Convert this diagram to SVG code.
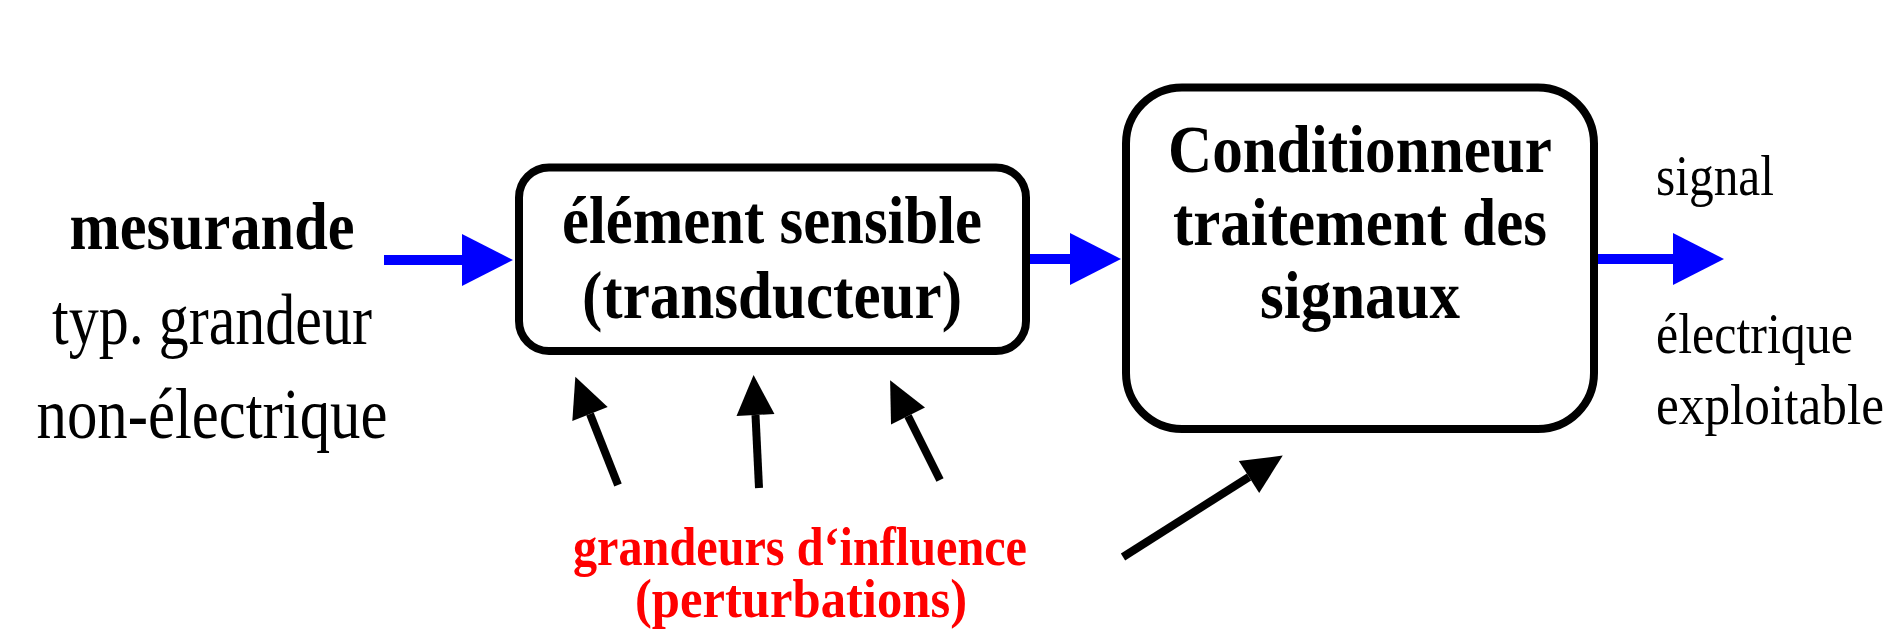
<svg xmlns="http://www.w3.org/2000/svg" width="1894" height="644" viewBox="0 0 1894 644">
<style>
.box{fill:#fff;stroke:#000;stroke-width:8}
.t{font-family:"Liberation Serif","Times New Roman",serif;fill:#000}
.b{font-weight:bold;font-size:68px}
.r{font-size:71px}
.s{font-size:56px}
.red{font-family:"Liberation Serif","Times New Roman",serif;font-weight:bold;font-size:54px;fill:#f00}
.blue{stroke:#00f;stroke-width:10;fill:none}
.blk{stroke:#000;stroke-width:8;fill:none;marker-end:url(#ah)}
</style>
<defs>
<marker id="ah" markerUnits="userSpaceOnUse" markerWidth="60" markerHeight="60" refX="0" refY="0" viewBox="-2 -30 60 60" orient="auto" overflow="visible">
<path d="M0,-19 L40,0 L0,19 Z" fill="#000"/>
</marker>
</defs>
<rect width="1894" height="644" fill="#fff"/>
<g id="input">
<text class="t b" x="212" y="249" text-anchor="middle" textLength="285" lengthAdjust="spacingAndGlyphs">mesurande</text>
<text class="t r" x="212" y="344" text-anchor="middle" textLength="320" lengthAdjust="spacingAndGlyphs">typ. grandeur</text>
<text class="t r" x="212" y="438" text-anchor="middle" textLength="351" lengthAdjust="spacingAndGlyphs">non-électrique</text>
</g>
<g id="transducteur">
<rect class="box" x="519" y="167.5" width="507" height="183.5" rx="30" ry="30"/>
<text class="t b" x="772" y="243" text-anchor="middle" textLength="420" lengthAdjust="spacingAndGlyphs">élément sensible</text>
<text class="t b" x="772" y="318" text-anchor="middle" textLength="380" lengthAdjust="spacingAndGlyphs">(transducteur)</text>
</g>
<g id="conditionneur">
<rect class="box" x="1126" y="87.5" width="468" height="341.5" rx="56" ry="56"/>
<text class="t b" x="1360" y="172" text-anchor="middle" textLength="384" lengthAdjust="spacingAndGlyphs">Conditionneur</text>
<text class="t b" x="1360" y="245" text-anchor="middle" textLength="374" lengthAdjust="spacingAndGlyphs">traitement des</text>
<text class="t b" x="1360" y="318" text-anchor="middle" textLength="200" lengthAdjust="spacingAndGlyphs">signaux</text>
</g>
<g id="output">
<text class="t s" x="1656" y="195" textLength="118" lengthAdjust="spacingAndGlyphs">signal</text>
<text class="t s" x="1656" y="353" textLength="197" lengthAdjust="spacingAndGlyphs">électrique</text>
<text class="t s" x="1656" y="424" textLength="228" lengthAdjust="spacingAndGlyphs">exploitable</text>
</g>
<g id="influence">
<text class="red" x="800" y="565" text-anchor="middle" textLength="454" lengthAdjust="spacingAndGlyphs">grandeurs d‘influence</text>
<text class="red" x="801" y="617" text-anchor="middle" textLength="332" lengthAdjust="spacingAndGlyphs">(perturbations)</text>
</g>
<g id="connectors">
<line class="blue" x1="384" y1="260" x2="463" y2="260"/>
<polygon points="462,234 513,260 462,286" fill="#00f"/>
<line class="blue" x1="1030" y1="259" x2="1071" y2="259"/>
<polygon points="1070,233 1121,259 1070,285" fill="#00f"/>
<line class="blue" x1="1598" y1="259" x2="1674" y2="259"/>
<polygon points="1673,233 1724,259 1673,285" fill="#00f"/>
<line class="blk" x1="618" y1="485" x2="590" y2="414"/>
<line class="blk" x1="759" y1="488" x2="755.5" y2="415"/>
<line class="blk" x1="940" y1="480" x2="908" y2="416"/>
<line class="blk" x1="1123" y1="557" x2="1249" y2="477"/>
</g>
</svg>
